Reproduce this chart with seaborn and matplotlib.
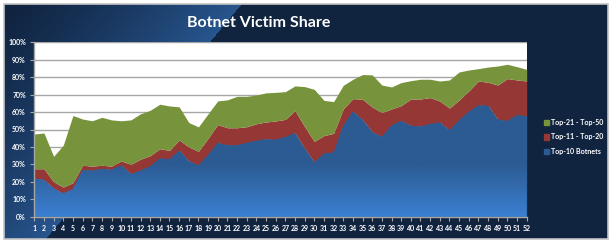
import numpy as np
import matplotlib
matplotlib.use("Agg")
import matplotlib.pyplot as plt
import seaborn as sns
from matplotlib.patches import Rectangle, Patch

weeks = list(range(1, 53))
top10 = [22.0, 21.2, 16.3, 13.4, 16.0, 26.8, 26.5, 27.5, 27.0, 29.5,
         24.5, 26.5, 29.0, 33.5, 33.0, 38.0, 32.0, 29.5, 35.5, 42.4,
         41.0, 41.0, 42.4, 43.6, 44.5, 44.2, 45.7, 48.0, 39.2, 31.2,
         36.3, 36.9, 52.4, 60.4, 55.6, 48.6, 45.9, 52.4, 55.0, 52.2,
         51.8, 53.2, 54.1, 49.7, 55.4, 60.2, 63.9, 63.7, 55.8, 54.9,
         58.3, 57.7]
top11_20 = [5.5, 6.3, 3.7, 3.6, 3.5, 2.7, 2.5, 2.0, 2.0, 2.5,
            5.5, 6.5, 6.0, 5.5, 5.0, 6.0, 8.0, 8.0, 9.5, 10.4,
            10.0, 10.0, 9.2, 9.7, 9.8, 10.7, 10.1, 12.8, 12.4, 12.0,
            10.2, 10.9, 9.4, 7.3, 11.7, 14.3, 13.8, 9.4, 8.7, 15.3,
            15.7, 15.1, 12.2, 12.6, 11.5, 11.9, 13.9, 13.4, 19.7, 24.3,
            20.1, 20.1]
top21_50 = [19.9, 20.5, 14.6, 24.0, 38.5, 26.5, 26.0, 27.5, 26.5, 23.0,
            25.5, 26.0, 26.0, 25.5, 25.5, 19.0, 14.0, 14.0, 14.0, 13.6,
            16.0, 18.0, 17.4, 16.5, 16.7, 16.4, 15.9, 14.2, 23.0, 29.8,
            20.2, 18.2, 13.5, 11.1, 14.2, 18.4, 15.8, 12.6, 13.2, 10.5,
            11.3, 10.5, 11.5, 16.1, 16.1, 12.0, 7.1, 8.7, 10.9, 8.2,
            7.6, 6.7]
series_names = ["Top-10 Botnets", "Top-11 - Top-20", "Top-21 - Top-50"]
y_ticks = list(range(0, 101, 10))
title = "Botnet Victim Share"

sns.set_theme(style="white")
plt.rcParams["font.family"] = ["Lato", "DejaVu Sans"]

W, H = 616, 246
fig = plt.figure(figsize=(W / 100, H / 100), dpi=100)
fig.patch.set_facecolor("white")

# ---- background panel with diagonal gradient ----
bg = fig.add_axes([0, 0, 1, 1], zorder=0)
bg.set_axis_off()
yy, xx = np.mgrid[0:H, 0:W].astype(float)
dark = np.array([0x10, 0x23, 0x3f]) / 255
light = np.array([0x27, 0x55, 0x8e]) / 255
d = ((xx - 240) * 233 + (yy - 5) * 194) / 303.0
t = np.clip(1 + d / 185.0, 0, 1)
t[d > 0] = 0
t = t ** 1.3
img = dark[None, None, :] * (1 - t[..., None]) + light[None, None, :] * t[..., None]
inside = (xx >= 4) & (xx <= 607) & (yy >= 4) & (yy <= 238)
img[~inside] = 1.0
bg.imshow(img, extent=[0, W, H, 0], aspect="auto", interpolation="bilinear")
bg.add_patch(Rectangle((3.5, 3.5), 604, 235, fill=False, ec="#c4c4c4", lw=1.2))
bg.set_xlim(0, W)
bg.set_ylim(H, 0)

# ---- main plot ----
x0, x1 = 34.3, 526.7
ytop, ybot = 42.3, 216.7
ax = fig.add_axes([x0 / W, (H - ybot) / H, (x1 - x0) / W, (ybot - ytop) / H], zorder=1)
ax.set_facecolor("white")
colors = ["#2c5b93", "#953735", "#77933c"]
polys = ax.stackplot(weeks, top10, top11_20, top21_50, colors=colors, lw=0, zorder=2)

# gradient on the blue area
gy = np.linspace(100, 0, 200)
tt = np.clip((30 - gy) / 30, 0, 1)[:, None]
c_top = np.array([0x2c, 0x5b, 0x93]) / 255
c_bot = np.array([0x3b, 0x80, 0xd2]) / 255
grad = c_top[None, None, :] * (1 - tt[..., None]) + c_bot[None, None, :] * tt[..., None]
grad = np.repeat(grad, 2, axis=1)
im = ax.imshow(grad, extent=[1, 52, 0, 100], aspect="auto", zorder=2.5,
               interpolation="bilinear")
im.set_clip_path(polys[0].get_paths()[0], transform=ax.transData)

ax.set_xlim(1, 52)
ax.set_ylim(0, 100)
ax.set_yticks(y_ticks)
ax.set_yticklabels([f"{v}%" for v in y_ticks])
ax.set_xticks(weeks)
ax.set_xticklabels([str(w) for w in weeks])
for v in y_ticks[1:]:
    ax.axhline(v, color="#a6a6a6", lw=1.0, zorder=1)
ax.tick_params(axis="both", which="both", colors="#a6a6a6", length=3, width=0.8,
               direction="out", labelcolor="white", labelsize=5, pad=3,
               bottom=True, left=True)
for lab in ax.get_xticklabels() + ax.get_yticklabels():
    lab.set_fontweight("bold")
sns.despine(ax=ax, top=True, right=True)
for s in ["left", "bottom"]:
    ax.spines[s].set_color("#a6a6a6")
    ax.spines[s].set_linewidth(1.0)
ax.grid(False)

# ---- title ----
fig.text(259 / W, 1 - 23 / H, title, ha="center", va="center", color="white",
         fontsize=11.5, fontweight="bold")

# ---- legend ----
handles = [Patch(color=colors[2], label=series_names[2]),
           Patch(color=colors[1], label=series_names[1]),
           Patch(color=colors[0], label=series_names[0])]
leg = fig.legend(handles=handles, loc="center left",
                 bbox_to_anchor=(540 / W, 1 - 137 / H), frameon=False,
                 prop={"family": ["Lato", "DejaVu Sans"], "weight": "bold", "size": 5.1},
                 labelcolor="white", handlelength=0.75, handleheight=0.75,
                 handletextpad=0.25, labelspacing=1.1, borderpad=0)

fig.savefig("out.png", dpi=100)
